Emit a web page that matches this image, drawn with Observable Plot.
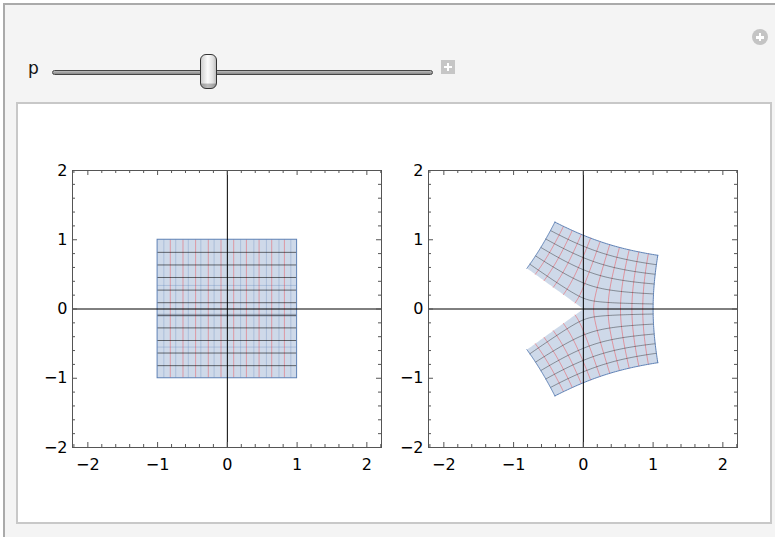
<!DOCTYPE html>
<html><head><meta charset="utf-8">
<script src="https://cdn.jsdelivr.net/npm/d3@7"></script>
<script src="https://cdn.jsdelivr.net/npm/@observablehq/plot@0.6"></script>
<style>
html,body{margin:0;padding:0;background:#fff;}
#root{position:relative;width:775px;height:537px;overflow:hidden;background:#fff;font-family:"DejaVu Sans",sans-serif;}
#outer{position:absolute;left:3px;top:3px;width:800px;height:600px;background:#f4f4f4;border-left:2px solid #aaa;border-top:2px solid #aaa;}
#panel{position:absolute;left:16px;top:102px;width:752px;height:418px;background:#fff;border:2px solid #c8c8c8;}
#plabel{position:absolute;left:28px;top:60px;font-size:17px;line-height:17px;color:#111;}
#track{position:absolute;left:52px;top:70px;width:379px;height:3px;border:1px solid #444;border-radius:3px;background:linear-gradient(#bbb,#888);}
#thumb{position:absolute;left:200px;top:54px;width:15px;height:33px;border:1px solid #333;border-radius:6px;
  background:linear-gradient(to bottom, rgba(0,0,0,0) 85%, rgba(0,0,0,0.25) 88%),linear-gradient(to right,#cfcfcf,#fbfbfb 45%,#e0e0e0 80%,#bdbdbd);}
#plus{position:absolute;left:441px;top:60px;width:14px;height:14px;background:#c6c6c6;}
#plus:before,#plus:after,#cplus:before,#cplus:after{content:"";position:absolute;background:#fff;}
#plus:before{left:3px;top:6px;width:8px;height:2px;}
#plus:after{left:6px;top:3px;width:2px;height:8px;}
#cplus{position:absolute;left:752px;top:29px;width:16px;height:16px;border-radius:50%;background:#c4c4c4;}
#cplus:before{left:4px;top:7px;width:8px;height:2.5px;}
#cplus:after{left:6.8px;top:4px;width:2.5px;height:8px;}
.plot{position:absolute;top:150px;}
</style></head>
<body><div id="root">
<div id="outer"></div>
<div id="panel"></div>
<div id="plabel">p</div>
<div id="track"></div>
<div id="thumb"></div>
<div id="plus"></div>
<div id="cplus"></div>
<div id="left" class="plot" style="left:20px"></div>
<div id="right" class="plot" style="left:376px"></div>
</div>
<script>
// ---- data ----
const p = 0.8;                         // slider value
const meshValues = [-0.818, -0.636, -0.455, -0.273, -0.091, 0.091, 0.273, 0.455, 0.636, 0.818];
const squareRange = [-1, 1];
const majorTicks = [-2, -1, 0, 1, 2];
const minorTicksX = [-2.2, -1.8, -1.6, -1.4, -1.2, -0.8, -0.6, -0.4, -0.2, 0.2, 0.4, 0.6, 0.8, 1.2, 1.4, 1.6, 1.8, 2.2];
const minorTicksY = [-1.8, -1.6, -1.4, -1.2, -0.8, -0.6, -0.4, -0.2, 0.2, 0.4, 0.6, 0.8, 1.2, 1.4, 1.6, 1.8];
const faintEdgesX = [-0.91, -0.74, -0.56, -0.38, -0.19, 0.19, 0.38, 0.56, 0.74, 0.91];
const faintEdgesY = [0.34, -0.55];
const overlapBandY = [-0.09];
const xDomain = [-2.22, 2.21];
const yDomain = [-2, 2];

// ---- styles ----
const regionBlue = "#5e81b5";
const frameGray = "#555";
const W = 371, H = 320, ML = 52, MR = 10, MT = 20, MB = 23;
const innerW = W - ML - MR, innerH = H - MT - MB;
const N = 60;

// branch: true = upper sheet, false = lower sheet, null = by sign of y
function powMap(x, y, branch) {
  const upper = branch === null ? y >= 0 : branch;
  const r = Math.hypot(x, y);
  const t = Math.atan2(Math.abs(y), x) * (upper ? 1 : -1);
  const rp = Math.pow(r, p);
  return {x: rp * Math.cos(p * t), y: rp * Math.sin(p * t)};
}
function curve(id, fx, fy, t0, t1, branch) {
  const pts = [];
  for (let i = 0; i <= N; i++) {
    const t = t0 + (t1 - t0) * i / N;
    pts.push({...powMap(fx(t), fy(t), branch), id});
  }
  return pts;
}

function frameMarks() {
  return [
    Plot.ruleX([0], {stroke: "black", strokeWidth: 1}),
    Plot.ruleY([0], {stroke: "black", strokeWidth: 1}),
    Plot.frame({stroke: frameGray, strokeWidth: 1}),
    Plot.tickX(majorTicks, {x: d => d, insetTop: innerH - 5, stroke: frameGray}),
    Plot.tickX(majorTicks, {x: d => d, insetBottom: innerH - 5, stroke: frameGray}),
    Plot.tickX(minorTicksX, {x: d => d, insetTop: innerH - 3, stroke: frameGray}),
    Plot.tickX(minorTicksX, {x: d => d, insetBottom: innerH - 3, stroke: frameGray}),
    Plot.tickY(majorTicks, {y: d => d, insetRight: innerW - 5, stroke: frameGray}),
    Plot.tickY(majorTicks, {y: d => d, insetLeft: innerW - 5, stroke: frameGray}),
    Plot.tickY(minorTicksY, {y: d => d, insetRight: innerW - 3, stroke: frameGray}),
    Plot.tickY(minorTicksY, {y: d => d, insetLeft: innerW - 3, stroke: frameGray}),
    Plot.axisX(majorTicks, {anchor: "bottom", tickSize: 0, tickPadding: 11, label: null, tickFormat: "d"}),
    Plot.axisY(majorTicks, {anchor: "left", tickSize: 0, tickPadding: 5, label: null, tickFormat: "d"})
  ];
}
function makePlot(marks) {
  return Plot.plot({
    width: W, height: H, marginLeft: ML, marginRight: MR, marginTop: MT, marginBottom: MB,
    x: {domain: xDomain}, y: {domain: yDomain},
    style: {background: "transparent", fontSize: "16px", fontFamily: "DejaVu Sans", color: "black", overflow: "visible"},
    marks: [...marks, ...frameMarks()]
  });
}

// ---- left: the square ----
const sq = [{x1: squareRange[0], x2: squareRange[1], y1: squareRange[0], y2: squareRange[1]}];
const leftPlot = makePlot([
  Plot.rect(sq, {x1: "x1", x2: "x2", y1: "y1", y2: "y2", fill: regionBlue, fillOpacity: 0.3}),
  Plot.ruleX(faintEdgesX, {x: d => d, y1: -1, y2: 1, stroke: regionBlue, strokeOpacity: 0.3}),
  Plot.ruleY(faintEdgesY, {y: d => d, x1: -1, x2: 1, stroke: regionBlue, strokeOpacity: 0.3}),
  Plot.ruleY(overlapBandY, {y: d => d, x1: -1, x2: 1, stroke: "#8090a8", strokeOpacity: 0.45, strokeWidth: 3}),
  Plot.ruleX(meshValues, {x: d => d, y1: -1, y2: 1, stroke: "red", strokeOpacity: 0.3}),
  Plot.ruleY(meshValues, {y: d => d, x1: -1, x2: 1, stroke: "black", strokeOpacity: 0.55}),
  Plot.rect(sq, {x1: "x1", x2: "x2", y1: "y1", y2: "y2", fill: "none", stroke: regionBlue, strokeWidth: 1})
]);
document.getElementById("left").appendChild(leftPlot);

// ---- right: image under z -> z^p ----
const [a, b] = squareRange;
const regionPts = [];
for (const up of [true, false]) {
  const s = up ? 1 : -1, id = up ? "U" : "L";
  regionPts.push(...curve(id, t => t, t => 0, a, b, up));
  regionPts.push(...curve(id, t => b, t => s * t, 0, b, up));
  regionPts.push(...curve(id, t => t, t => s * b, b, a, up));
  regionPts.push(...curve(id, t => a, t => s * t, b, 0, up));
}
const redPts = [], darkPts = [];
meshValues.forEach((c, i) => {
  if (c > 0) redPts.push(...curve("r" + i, t => c, t => t, a, b, null));
  else {
    redPts.push(...curve("r" + i + "u", t => c, t => t, 0, b, true));
    redPts.push(...curve("r" + i + "l", t => c, t => -t, 0, b, false));
  }
  darkPts.push(...curve("d" + i, t => t, t => c, a, b, c > 0));
});
const edgePts = [
  ...curve("top", t => t, t => b, a, b, true),
  ...curve("bottom", t => t, t => a, a, b, false),
  ...curve("right", t => b, t => t, a, b, null),
  ...curve("leftU", t => a, t => t, 0, b, true),
  ...curve("leftL", t => a, t => -t, 0, b, false)
];
const rightPlot = makePlot([
  Plot.line(regionPts, {x: "x", y: "y", z: "id", fill: regionBlue, fillOpacity: 0.3, stroke: "none", curve: "linear-closed"}),
  Plot.line(redPts, {x: "x", y: "y", z: "id", stroke: "red", strokeOpacity: 0.32, strokeWidth: 1}),
  Plot.line(darkPts, {x: "x", y: "y", z: "id", stroke: "black", strokeOpacity: 0.36, strokeWidth: 1}),
  Plot.line(edgePts, {x: "x", y: "y", z: "id", stroke: regionBlue, strokeWidth: 1})
]);
document.getElementById("right").appendChild(rightPlot);
</script>
</body></html>
